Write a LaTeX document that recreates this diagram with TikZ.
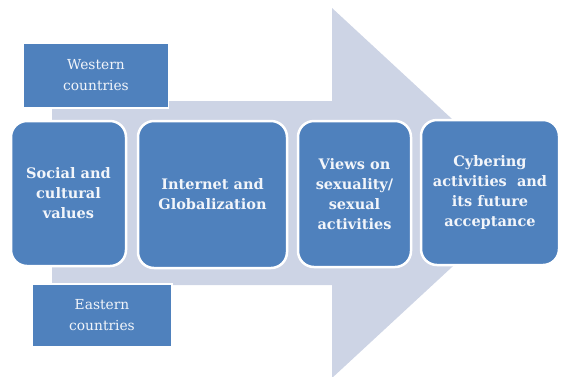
\documentclass[tikz,border=0pt]{standalone}
\usepackage{fontspec}
\setmainfont{DejaVu Serif}
\begin{document}
\begin{tikzpicture}[x=1pt,y=-1pt,
  boxfill/.style={fill=boxblue},
  stage/.style={boxfill, draw=white, line width=2.5pt, rounded corners=16pt, text=textwhite,
     font=\bfseries\fontsize{14.5}{20}\selectfont, align=center, inner sep=0pt},
  region/.style={boxfill, draw=white, line width=1.5pt, text=textwhite,
     font=\fontsize{13.8}{21}\selectfont, align=center, inner sep=0pt}]
\definecolor{boxblue}{HTML}{4F81BD}
\definecolor{arrowgrey}{HTML}{CDD4E5}
\definecolor{textwhite}{HTML}{F2F5FA}
\useasboundingbox (0,0) rectangle (561,376);
\clip (0,0) rectangle (561,376);
% big background arrow
\fill[arrowgrey] (52,101) -- (332,101) -- (332,8) -- (532,193) -- (332,378) -- (332,285) -- (52,285) -- cycle;
% region boxes
\node[region, minimum width=145pt, minimum height=65pt] (west) at (96,75.5) {Western\\countries};
\node[region, minimum width=140pt, minimum height=63pt] (east) at (102,315.5) {Eastern\\countries};
% stage boxes
\node[stage, minimum width=115pt, minimum height=145pt] (social) at (68.5,193.5) {Social and\\cultural\\values};
\node[stage, minimum width=149pt, minimum height=147pt] (internet) at (212.5,194.5) {Internet and\\Globalization};
\node[stage, minimum width=113pt, minimum height=146pt] (views) at (354.5,194) {Views on\\sexuality/\\sexual\\activities};
\node[stage, minimum width=138pt, minimum height=145pt] (cyber) at (490,192.5) {Cybering\\activities~ and\\its future\\acceptance};
\end{tikzpicture}
\end{document}
